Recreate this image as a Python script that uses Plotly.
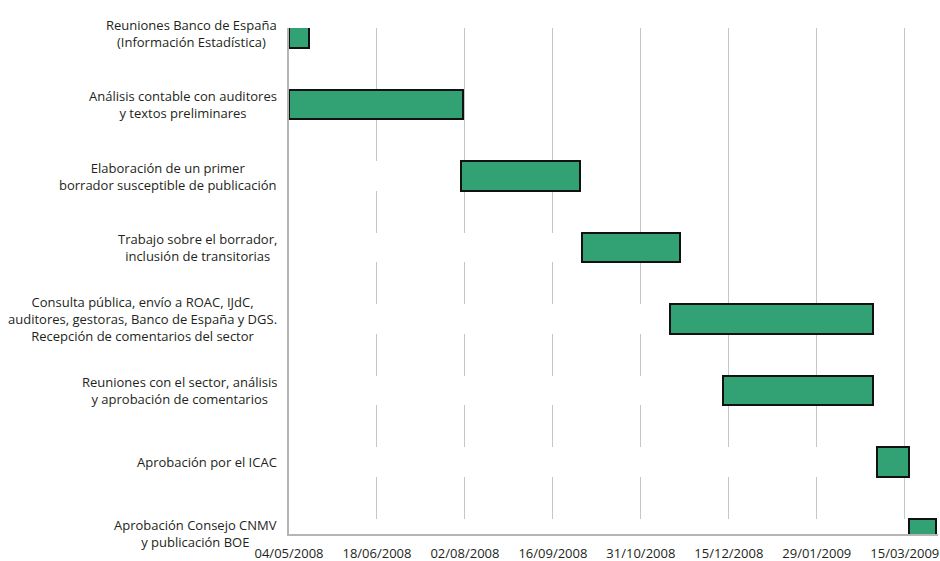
import pandas as pd
import plotly.graph_objects as go

tasks = [
    "Reuniones Banco de España<br>(Información Estadística)",
    "Análisis contable con auditores<br>y textos preliminares",
    "Elaboración de un primer<br>borrador susceptible de publicación",
    "Trabajo sobre el borrador,<br>inclusión de transitorias",
    "Consulta pública, envío a ROAC, IJdC,<br>auditores, gestoras, Banco de España y DGS.<br>Recepción de comentarios del sector",
    "Reuniones con el sector, análisis<br>y aprobación de comentarios",
    "Aprobación por el ICAC",
    "Aprobación Consejo CNMV<br>y publicación BOE",
]
starts = ["2008-05-04", "2008-05-04", "2008-07-31", "2008-10-01",
          "2008-11-15", "2008-12-12", "2009-03-01", "2009-03-17"]
ends = ["2008-05-14", "2008-08-01", "2008-09-30", "2008-11-20",
        "2009-02-27", "2009-02-27", "2009-03-17", "2009-03-31"]
axis_start = "2008-05-04"
axis_end = "2009-04-01"
tick_step_days = 45

FONT = "Open Sans"
TXT = "#231f20"
GREEN = "#32a274"

s = pd.to_datetime(starts)
e = pd.to_datetime(ends)
a0 = pd.Timestamp(axis_start)
ms = 86400000.0
dur = [(ee - ss).days * ms for ss, ee in zip(s, e)]
off = [(ss - a0).days * ms for ss in s]
ykeys = list(range(len(tasks)))

fig = go.Figure()
# white offset bars (hide gridlines before task start)
fig.add_trace(go.Bar(
    y=ykeys, x=off, base=[axis_start] * len(tasks), orientation="h",
    width=0.41, marker=dict(color="white", line=dict(width=0)),
    hoverinfo="skip", showlegend=False,
))
fig.add_trace(go.Bar(
    y=ykeys, x=dur, base=starts, orientation="h",
    width=0.41, marker=dict(color=GREEN, line=dict(color="#111111", width=2)),
    showlegend=False,
))

for i, t in enumerate(tasks):
    fig.add_annotation(
        x=-0.015, xref="paper", y=i, yref="y", text=t, showarrow=False,
        xanchor="right", yanchor="middle", align="center",
        font=dict(family=FONT, size=13, color=TXT),
    )

fig.update_layout(
    width=940, height=561,
    margin=dict(l=289, r=2, t=28, b=27),
    paper_bgcolor="white", plot_bgcolor="white",
    barmode="overlay", bargap=0,
    font=dict(family=FONT, size=13, color=TXT),
    xaxis=dict(
        type="date", range=[axis_start, axis_end],
        tick0=axis_start, dtick=tick_step_days * ms, tickformat="%d/%m/%Y",
        showgrid=True, gridcolor="#c6c6c6", gridwidth=1,
        showline=True, linecolor="#b5b5b5", linewidth=2,
        ticks="", ticklen=0, automargin=False, ticklabelstandoff=6,
        tickfont=dict(family=FONT, size=13, color=TXT),
    ),
    yaxis=dict(
        range=[7.007, -0.07], showticklabels=False, showgrid=False,
        zeroline=False, showline=True, linecolor="#b5b5b5", linewidth=2,
        ticks="", automargin=False,
    ),
)

fig.write_html("out.html")
